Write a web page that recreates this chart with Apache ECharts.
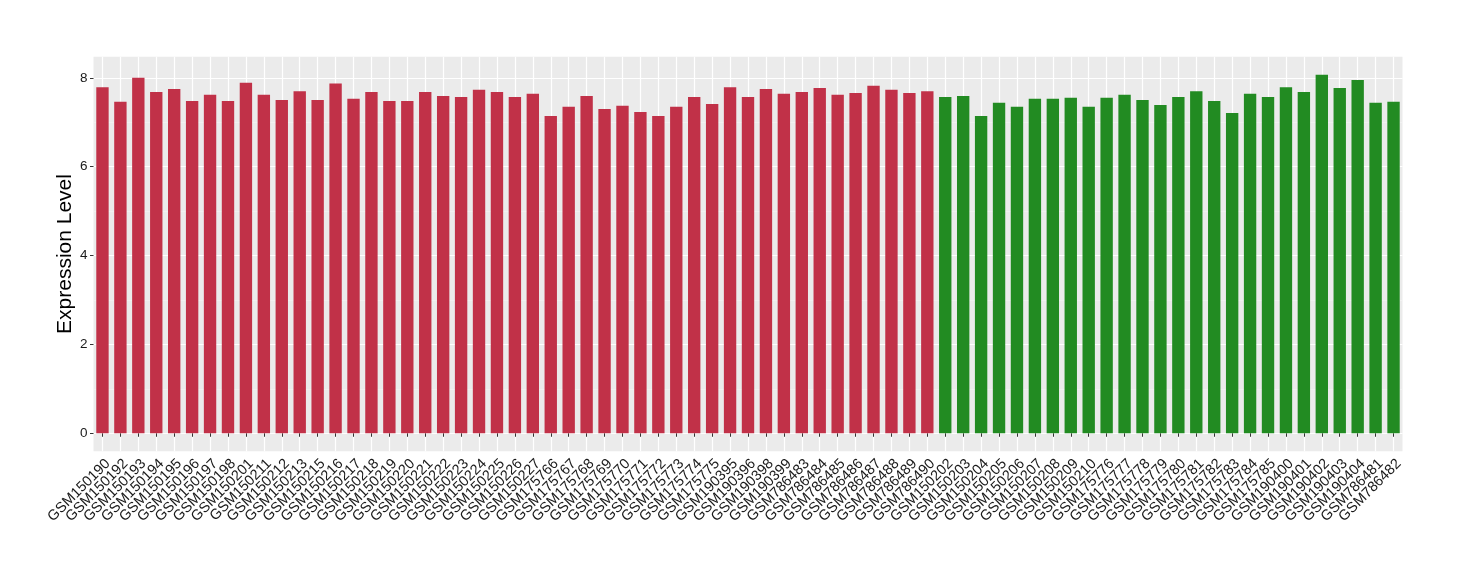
<!DOCTYPE html>
<html>
<head>
<meta charset="utf-8">
<script src="https://cdn.jsdelivr.net/npm/echarts@6/dist/echarts.min.js"></script>
<style>html,body{margin:0;padding:0;background:#fff}#c{width:1460px;height:580px}</style>
</head>
<body>
<div id="c"></div>
<script>
const redSamples = ["GSM150190","GSM150192","GSM150193","GSM150194","GSM150195","GSM150196","GSM150197","GSM150198","GSM150201","GSM150211","GSM150212","GSM150213","GSM150215","GSM150216","GSM150217","GSM150218","GSM150219","GSM150220","GSM150221","GSM150222","GSM150223","GSM150224","GSM150225","GSM150226","GSM150227","GSM175766","GSM175767","GSM175768","GSM175769","GSM175770","GSM175771","GSM175772","GSM175773","GSM175774","GSM175775","GSM190395","GSM190396","GSM190398","GSM190399","GSM786483","GSM786484","GSM786485","GSM786486","GSM786487","GSM786488","GSM786489","GSM786490"];
const redValues = [7.79,7.46,8.00,7.68,7.75,7.48,7.62,7.48,7.89,7.62,7.50,7.70,7.50,7.87,7.53,7.68,7.48,7.48,7.68,7.59,7.57,7.73,7.68,7.57,7.64,7.14,7.35,7.59,7.30,7.37,7.23,7.14,7.35,7.57,7.41,7.79,7.57,7.75,7.64,7.68,7.77,7.62,7.66,7.82,7.73,7.66,7.70];
const greenSamples = ["GSM150202","GSM150203","GSM150204","GSM150205","GSM150206","GSM150207","GSM150208","GSM150209","GSM150210","GSM175776","GSM175777","GSM175778","GSM175779","GSM175780","GSM175781","GSM175782","GSM175783","GSM175784","GSM175785","GSM190400","GSM190401","GSM190402","GSM190403","GSM190404","GSM786481","GSM786482"];
const greenValues = [7.57,7.59,7.14,7.44,7.35,7.53,7.53,7.55,7.35,7.55,7.62,7.50,7.39,7.57,7.70,7.48,7.21,7.64,7.57,7.79,7.68,8.07,7.77,7.95,7.44,7.46];
const yTicks = [0,2,4,6,8];
const yMinorTicks = [1,3,5,7];
const yRange = [-0.4035, 8.4735];

const categories = redSamples.concat(greenSamples);
const redData = redValues.concat(greenSamples.map(() => '-'));
const greenData = redSamples.map(() => '-').concat(greenValues);

const chart = echarts.init(document.getElementById('c'), null, {renderer: 'canvas'});
const font = 'Liberation Sans, Arial, Helvetica, sans-serif';
chart.setOption({
  animation: false,
  backgroundColor: '#ffffff',
  grid: {left: 93.5, right: 57.5, top: 56.8, bottom: 128.8, show: true, backgroundColor: '#EBEBEB', borderWidth: 0},
  xAxis: {
    type: 'category',
    data: categories,
    axisLine: {show: false},
    axisTick: {show: true, alignWithLabel: true, length: 3.5, lineStyle: {color: '#333333', width: 1}},
    splitLine: {show: true, alignWithLabel: true, lineStyle: {color: '#ffffff', width: 1.2}},
    axisLabel: {rotate: 45, interval: 0, fontSize: 14.5, color: '#1a1a1a', fontFamily: font, margin: 5,
      align: 'right', verticalAlign: 'top'}
  },
  yAxis: [{
    type: 'value',
    min: yRange[0], max: yRange[1],
    name: 'Expression Level',
    nameLocation: 'middle',
    nameGap: 18,
    nameMoveOverlap: false,
    nameTextStyle: {fontSize: 21, color: '#000', fontFamily: font},
    axisLine: {show: false},
    axisTick: {show: true, length: 3.5, lineStyle: {color: '#333333'}, customValues: yTicks},
    axisLabel: {fontSize: 13.5, color: '#1a1a1a', fontFamily: font, margin: 6, customValues: yTicks},
    splitLine: {show: true, lineStyle: {color: '#ffffff', width: 1.2}}
  }, {
    type: 'value',
    min: yRange[0], max: yRange[1],
    show: true,
    axisLine: {show: false},
    axisTick: {show: false, customValues: yMinorTicks},
    axisLabel: {show: false, customValues: yMinorTicks},
    splitLine: {show: true, lineStyle: {color: '#F5F5F5', width: 0.6}}
  }],
  series: [{
    type: 'bar', name: 'red', data: redData, stack: 'a', barWidth: '69%',
    itemStyle: {color: '#C13148'}
  }, {
    type: 'bar', name: 'green', data: greenData, stack: 'a', barWidth: '69%',
    itemStyle: {color: '#228B22'}
  }]
});
</script>
</body>
</html>
